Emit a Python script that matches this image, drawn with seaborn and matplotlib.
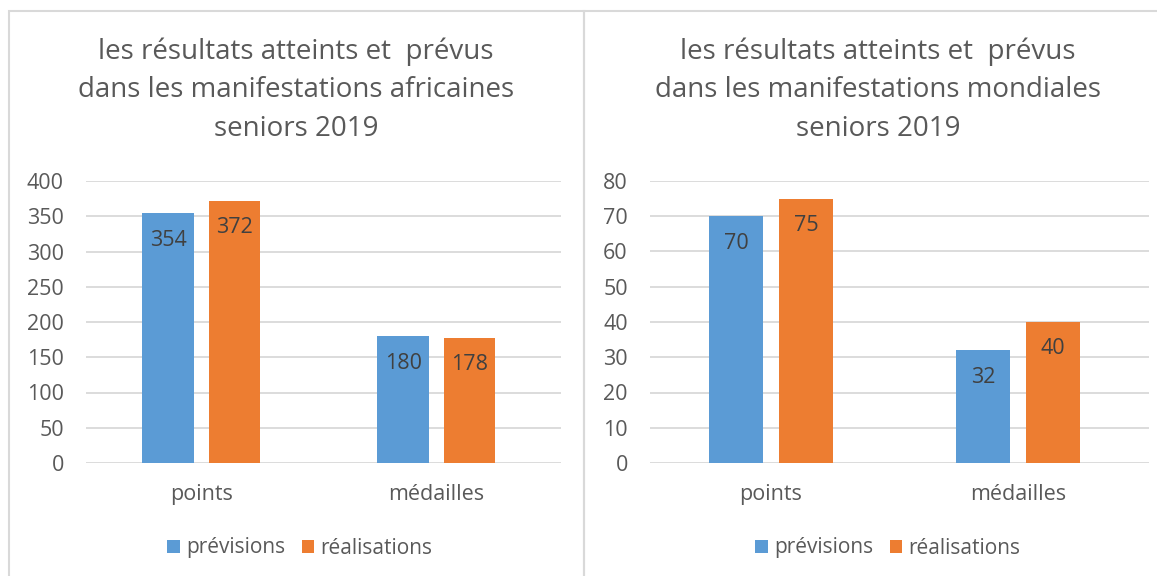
import matplotlib
matplotlib.use("Agg")
import matplotlib.pyplot as plt
from matplotlib.patches import Patch, Rectangle
import pandas as pd
import seaborn as sns

# data
categories = ["points", "médailles"]
series = ["prévisions", "réalisations"]
africa_prevues = [354, 180]
africa_realisees = [372, 178]
monde_prevues = [70, 32]
monde_realisees = [75, 40]

titles = [
    "les résultats atteints et  prévus\ndans les manifestations africaines\nseniors 2019",
    "les résultats atteints et  prévus\ndans les manifestations mondiales\nseniors 2019",
]
yticks_africa = list(range(0, 401, 50))
yticks_monde = list(range(0, 81, 10))

BLUE = "#5B9BD5"
ORANGE = "#ED7D31"
TEXT = "#595959"
GRID = "#D9D9D9"

sns.set_theme(style="white")
plt.rcParams["font.family"] = ["Open Sans", "DejaVu Sans"]

W, H = 1157, 576


def to_df(prev, real):
    return pd.DataFrame({
        "cat": categories * 2,
        "serie": [series[0]] * 2 + [series[1]] * 2,
        "val": prev + real,
    })


def draw_panel(ax, df, yticks, title, title_x, legend_x):
    sns.barplot(data=df, x="cat", y="val", hue="serie", order=categories,
                hue_order=series, palette=[BLUE, ORANGE], saturation=1,
                width=0.564, gap=0.224, legend=False, ax=ax, linewidth=0)
    ax.set_xlim(-0.49, 1.53)
    ax.set_ylim(yticks[0], yticks[-1])
    ax.set_yticks(yticks)
    ax.yaxis.grid(True, color=GRID, linewidth=1.3)
    ax.set_axisbelow(True)
    for s in ax.spines.values():
        s.set_visible(False)
    ax.tick_params(axis="y", length=0, pad=16, labelsize=15.5, labelcolor=TEXT)
    ax.tick_params(axis="x", length=0, pad=15, labelsize=15.5, labelcolor=TEXT)
    ax.set_xlabel("")
    ax.set_ylabel("")

    for cont in ax.containers:
        for bar, v in zip(cont, cont.datavalues):
            ax.annotate(f"{v:.0f}", (bar.get_x() + bar.get_width() / 2, bar.get_height()),
                        xytext=(0, -27), textcoords="offset pixels",
                        ha="center", va="center", fontsize=15.5, color="#404040")

    handles = [Patch(facecolor=BLUE, edgecolor="none"), Patch(facecolor=ORANGE, edgecolor="none")]
    ax.legend(handles, series, loc="center", bbox_to_anchor=(legend_x, 1 - 548 / H),
              bbox_transform=ax.figure.transFigure, ncol=2, frameon=False,
              fontsize=15, labelcolor=TEXT, handlelength=0.6, handleheight=0.6,
              handletextpad=0.3, columnspacing=0.8, borderpad=0)

    ax.figure.text(title_x, 1 - 90 / H, title, ha="center", va="center",
                   fontsize=20, color=TEXT, linespacing=1.5)


fig = plt.figure(figsize=(W / 100, H / 100), dpi=100)
fig.patch.set_facecolor("white")

ax1 = fig.add_axes([86 / W, 1 - 463 / H, (561 - 86) / W, 282 / H])
ax2 = fig.add_axes([650 / W, 1 - 463 / H, (1149 - 650) / W, 282 / H])

draw_panel(ax1, to_df(africa_prevues, africa_realisees), yticks_africa, titles[0],
           296 / W, 300 / W)
draw_panel(ax2, to_df(monde_prevues, monde_realisees), yticks_monde, titles[1],
           878 / W, 888 / W)

# chart frames
fig.add_artist(Rectangle((9 / W, -0.1), (584 - 9) / W, 1.1 - 11 / H,
                         transform=fig.transFigure, fill=False, edgecolor=GRID, linewidth=1.5))
fig.add_artist(Rectangle((584 / W, -0.1), 1.0, 1.1 - 11 / H,
                         transform=fig.transFigure, fill=False, edgecolor=GRID, linewidth=1.5))

fig.savefig("out.png", dpi=100)
